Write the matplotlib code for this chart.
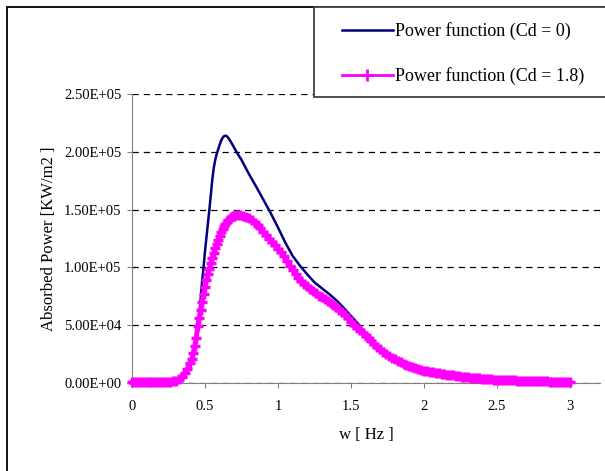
import numpy as np
import matplotlib
matplotlib.use('Agg')
import matplotlib.pyplot as plt
from matplotlib.patches import Rectangle
from matplotlib.lines import Line2D
from matplotlib.ticker import FuncFormatter, MultipleLocator

plt.rcParams['font.family'] = ['Liberation Serif', 'DejaVu Serif']

# Cd = 1.8 series (absorbed power in kW/m2, thousands)
w_cd18 = [0.00, 0.02, 0.04, 0.06, 0.08, 0.10, 0.12, 0.14, 0.16, 0.18,
          0.20, 0.22, 0.24, 0.26, 0.28, 0.30, 0.32, 0.34, 0.36, 0.38,
          0.40, 0.41, 0.42, 0.43, 0.44, 0.45, 0.46, 0.47, 0.48, 0.49,
          0.50, 0.51, 0.52, 0.53, 0.54, 0.55, 0.56, 0.57, 0.58, 0.59,
          0.60, 0.61, 0.62, 0.63, 0.64, 0.65, 0.66, 0.67, 0.68, 0.69,
          0.70, 0.72, 0.74, 0.76, 0.78, 0.80, 0.82, 0.84, 0.86, 0.88,
          0.90, 0.92, 0.94, 0.96, 0.98, 1.00, 1.02, 1.04, 1.06, 1.08,
          1.10, 1.12, 1.14, 1.16, 1.18, 1.20, 1.22, 1.24, 1.26, 1.28,
          1.30, 1.32, 1.34, 1.36, 1.38, 1.40, 1.42, 1.44, 1.46, 1.48,
          1.50, 1.52, 1.54, 1.56, 1.58, 1.60, 1.62, 1.64, 1.66, 1.68,
          1.70, 1.72, 1.74, 1.76, 1.78, 1.80, 1.82, 1.84, 1.86, 1.88,
          1.90, 1.92, 1.94, 1.96, 1.98, 2.00, 2.02, 2.04, 2.06, 2.08,
          2.10, 2.12, 2.14, 2.16, 2.18, 2.20, 2.22, 2.24, 2.26, 2.28,
          2.30, 2.32, 2.34, 2.36, 2.38, 2.40, 2.42, 2.44, 2.46, 2.48,
          2.50, 2.52, 2.54, 2.56, 2.58, 2.60, 2.62, 2.64, 2.66, 2.68,
          2.70, 2.72, 2.74, 2.76, 2.78, 2.80, 2.82, 2.84, 2.86, 2.88,
          2.90, 2.92, 2.94, 2.96, 2.98, 3.00]
p_cd18 = [0.5, 0.5, 0.5, 0.5, 0.5, 0.5, 0.5, 0.5, 0.5, 0.5,
          0.5, 0.6, 0.8, 1.0, 1.3, 2.0, 3.2, 5.5, 8.5, 12.5,
          17.5, 20.5, 26, 32, 39, 49, 56, 63, 70, 77,
          83, 89, 94, 99, 103.5, 108, 112.5, 116.5, 120.5, 124,
          127.5, 130.5, 133, 135.5, 137.5, 139.5, 141, 142.3, 143.3, 144.2,
          144.8, 145.4, 145.3, 144.8, 143.8, 142.5, 140.8, 138.8, 136.5, 133.8,
          131, 128, 125, 122, 119, 116, 113, 109.5, 105.5, 101.5,
          97.5, 94, 91, 88, 85.5, 83.5, 81.5, 79.5, 77.5, 75.5,
          74, 72.5, 71, 69.5, 67.5, 65.5, 63.5, 61, 58.5, 56,
          53, 50.5, 48, 45.5, 43, 40.5, 38.5, 36, 33.5, 31,
          29, 27, 25, 23.5, 22, 20.5, 19, 17.8, 16.6, 15.5,
          14.5, 13.6, 12.8, 12.1, 11.4, 10.8, 10.2, 9.7, 9.2, 8.7,
          8.3, 7.9, 7.5, 7.1, 6.8, 6.5, 6.2, 5.9, 5.6, 5.3,
          5.0, 4.7, 4.5, 4.3, 4.0, 3.8, 3.6, 3.4, 3.2, 3.0,
          2.9, 2.7, 2.6, 2.5, 2.4, 2.3, 2.2, 2.1, 2.0, 1.9,
          1.8, 1.7, 1.6, 1.5, 1.5, 1.4, 1.3, 1.3, 1.2, 1.2,
          1.1, 1.1, 1.0, 1.0, 1.0, 1.0]

# Cd = 0 series
w_cd0 = [0.00, 0.10, 0.20, 0.25, 0.30, 0.35, 0.38, 0.40, 0.42, 0.44,
         0.45, 0.46, 0.47, 0.48, 0.49, 0.50, 0.51, 0.52, 0.53, 0.54,
         0.55, 0.56, 0.57, 0.58, 0.59, 0.60, 0.61, 0.62, 0.63, 0.64,
         0.65, 0.66, 0.68, 0.70, 0.72, 0.75, 0.80, 0.85, 0.90, 0.95,
         1.00, 1.05, 1.10, 1.15, 1.20, 1.25, 1.30, 1.35, 1.40, 1.45,
         1.50, 1.55, 1.60, 1.65, 1.70, 1.80, 1.90, 2.00, 2.20, 2.40,
         2.60, 2.80, 3.00]
p_cd0 = [0.3, 0.3, 0.4, 0.7, 2, 6, 11, 17, 27, 40,
         48, 58, 72, 88, 100, 114, 126, 138, 150, 163,
         176, 186, 193, 198, 202, 206, 209.5, 212, 213.5, 214,
         213.5, 212, 208, 203.5, 199, 193, 181, 170, 158.5, 147,
         134.5, 121.5, 110, 101.5, 94, 87, 82, 77, 71.5, 65,
         58, 51, 43, 35, 29, 20.5, 14.5, 10.8, 6.5, 3.9,
         2.3, 1.4, 1.0]

labels = ['Power function (Cd = 0)', 'Power function (Cd = 1.8)']

W, H = 605, 471
fig = plt.figure(figsize=(W / 100, H / 100), dpi=100)
ax = fig.add_axes([132 / W, 1 - 383 / H, (600 - 132) / W, (383 - 94) / H])

ax.plot(w_cd0, np.array(p_cd0) * 1e3, color='#000080', lw=1.8, zorder=3)
ax.plot(w_cd18, np.array(p_cd18) * 1e3, color='#FF00FF', lw=3.5, marker='+',
        ms=7.5, mew=2.5, zorder=4, clip_on=False)

ax.set_xlim(0, (600 - 132) / 146)
ax.set_ylim(0, 2.5e5)
ax.xaxis.set_major_locator(MultipleLocator(0.5))
ax.yaxis.set_major_locator(MultipleLocator(5e4))
ax.xaxis.set_major_formatter(FuncFormatter(lambda v, p: '%g' % v if v <= 3.01 else ''))
ax.yaxis.set_major_formatter(FuncFormatter(lambda v, p: '%.2E' % v))
ax.yaxis.grid(True, color='black', linestyle=(0, (5, 4)), lw=0.9)
ax.set_axisbelow(True)
for s in ['top', 'right']:
    ax.spines[s].set_visible(False)
for s in ['left', 'bottom']:
    ax.spines[s].set_color('#808080')
ax.tick_params(axis='both', direction='out', length=3.5, color='#808080', labelsize=10.5)
ax.tick_params(axis='x', pad=9)
ax.tick_params(axis='y', pad=4)
ax.set_xlabel('w [ Hz ]', fontsize=12, labelpad=10)
ax.set_ylabel('Absorbed Power [KW/m2 ]', fontsize=12, labelpad=5)

# outer chart frame and legend box
fig.patches.append(Rectangle((6.5 / W, -0.1), 1.2, 1 - 7 / H + 0.1, transform=fig.transFigure,
                             fill=False, ec='black', lw=1.3))
fig.patches.append(Rectangle((314 / W, 1 - 97 / H), 0.6, 90 / H, transform=fig.transFigure,
                             fc='white', ec='#404040', lw=1.3, zorder=5))

handles = [Line2D([], [], color='#000080', lw=1.8),
           Line2D([], [], color='#FF00FF', lw=2, marker='+', ms=9, mew=2)]
fig.legend(handles, labels, loc='upper left', bbox_to_anchor=(342 / W, 1 - 22 / H),
           frameon=False, fontsize=13, handlelength=2.8, handletextpad=0.15,
           labelspacing=1.5, borderpad=0, borderaxespad=0)

fig.savefig('out.png', dpi=100)
